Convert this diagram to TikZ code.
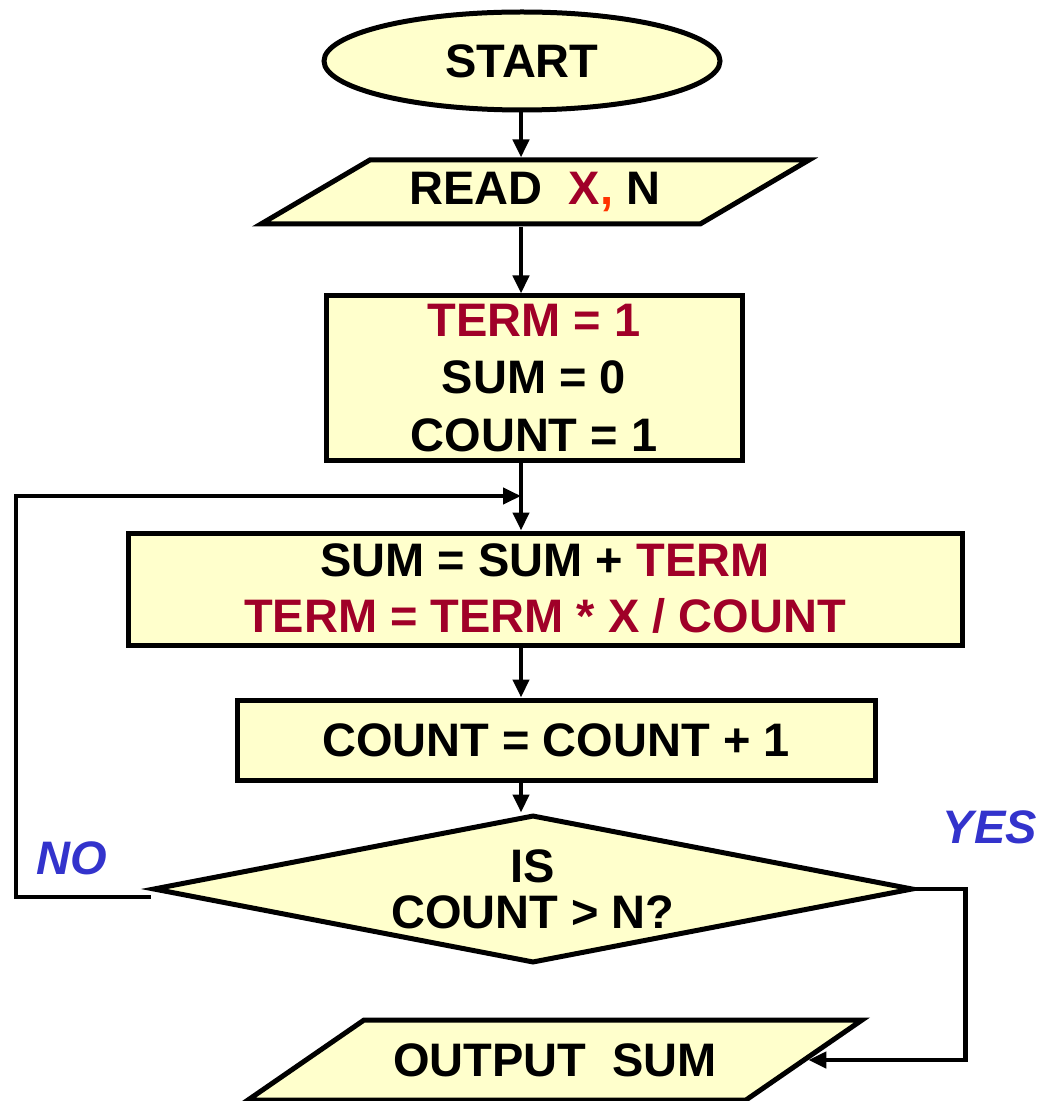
\documentclass[tikz,border=0pt]{standalone}
\usepackage{fontspec}
\setmainfont{Liberation Sans}
\usetikzlibrary{shapes.geometric,arrows.meta}

\definecolor{boxfill}{HTML}{FFFFCC}
\definecolor{termred}{HTML}{A00028}
\definecolor{commared}{HTML}{FF3300}
\definecolor{answerblue}{HTML}{3333CC}

\tikzset{
  base/.style={draw, line width=2.5pt, fill=boxfill, align=center, inner sep=0pt,
    font=\fontsize{23.5}{28.75}\selectfont\bfseries},
  terminal/.style={base, ellipse},
  io/.style={base, trapezium, trapezium stretches body=true},
  process/.style={base, rectangle},
  decision/.style={base, diamond, aspect=5},
  flow/.style={line width=2.2pt, -{Triangle[length=9pt,width=8pt]}},
  answer/.style={text=answerblue, font=\fontsize{23.5}{28}\selectfont\bfseries\itshape}
}

\begin{document}
\begin{tikzpicture}[x=0.5pt,y=-0.5pt]
  \useasboundingbox (0,0) rectangle (1038,1101);

  \node[terminal, minimum width=198pt, minimum height=49pt] (start) at (522,61) {START};
  \node[io, trapezium left angle=20, trapezium right angle=160,
        minimum width=274pt, minimum height=32pt] (read) at (535,192)
        {READ\ \ \textcolor{termred}{X}\textcolor{commared}{,} N};
  \node[process, minimum width=208pt, minimum height=82pt] (init) at (534,378)
        {\textcolor{termred}{TERM = 1}\\SUM = 0\\COUNT = 1};
  \node[process, minimum width=417pt, minimum height=56pt, text=termred,
        font=\fontsize{23.5}{28}\selectfont\bfseries] (sum) at (545,589)
        {\textcolor{black}{SUM = SUM +} TERM\\TERM = TERM * X / COUNT};
  \node[process, minimum width=319pt, minimum height=40pt] (count) at (556,740)
        {COUNT = COUNT + 1};
  \node[decision, minimum width=380pt, minimum height=74pt,
        font=\fontsize{23.5}{23}\selectfont\bfseries] (test) at (533,889)
        {IS\\COUNT > N?};
  \node[io, trapezium left angle=16, trapezium right angle=164,
        minimum width=307pt, minimum height=40pt] (out) at (555,1060)
        {OUTPUT\ \ SUM};

  \node[answer] (no) at (72,858) {NO};
  \node[answer] (yes) at (990,827) {YES};

  \coordinate (spine) at (521,0);
  \coordinate (loopleft) at (16,496);
  \coordinate (loopin) at (521,496);

  \draw[flow] (start.south -| spine) -- (read.north -| spine);
  \draw[flow] (read.south -| spine) -- (init.north -| spine);
  \draw[flow] (init.south -| spine) -- (sum.north -| spine);
  \draw[flow] (sum.south -| spine) -- (count.north -| spine);
  \draw[flow] (count.south -| spine) -- (test.north -| spine);
  \draw[flow] ([yshift=-4pt]test.west) -| (loopleft) -- (loopin);
  \draw[flow] (test.east) -- ++(50,0) |- (out.east);
\end{tikzpicture}
\end{document}
